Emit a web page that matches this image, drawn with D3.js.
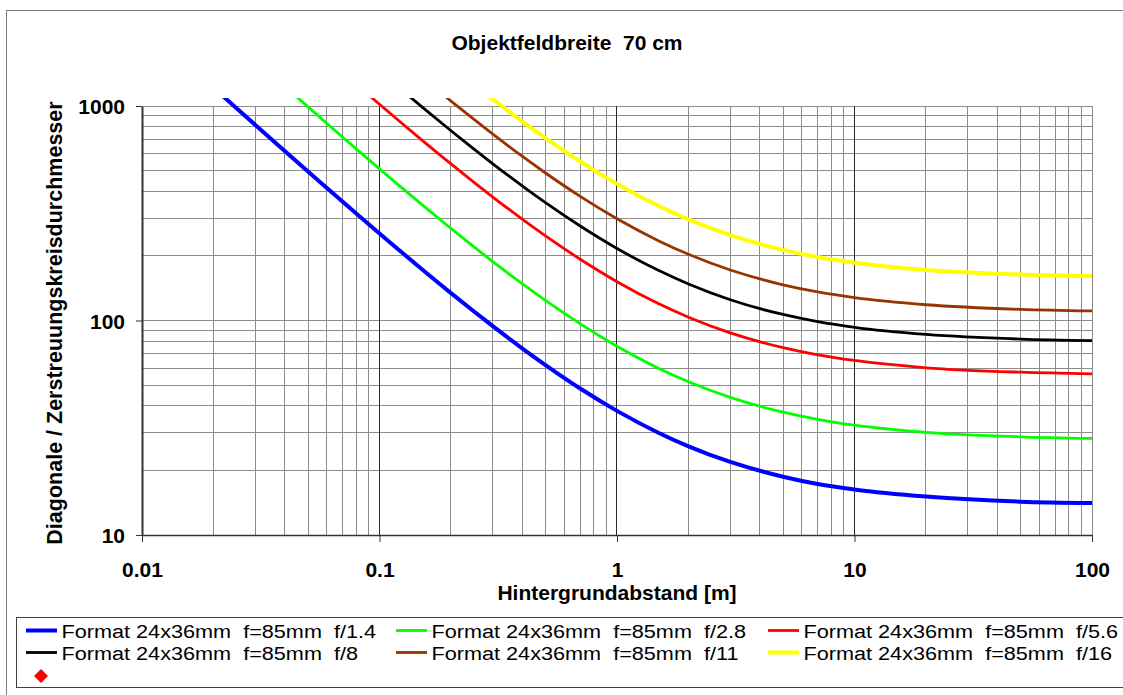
<!DOCTYPE html>
<html><head><meta charset="utf-8">
<script src="https://cdn.jsdelivr.net/npm/d3@7"></script>
<style>
body{margin:0;background:#fff}
svg text{font-family:"Liberation Sans",Arial,Helvetica,sans-serif;white-space:pre}
</style></head><body>
<svg id="c" width="1123" height="695"></svg>
<script>
// ---- data ----
const titleText = "Objektfeldbreite  70 cm";
const xLabel = "Hintergrundabstand [m]";
const yLabel = "Diagonale / Zerstreuungskreisdurchmesser";
const xTickValues = [0.01, 0.1, 1, 10, 100];
const yTickValues = [10, 100, 1000];
// background distance [m]
const distances = [0.02, 0.025, 0.03, 0.04, 0.05, 0.06, 0.07, 0.08, 0.1, 0.12, 0.15, 0.2, 0.25, 0.3, 0.4, 0.5, 0.7, 1, 1.5, 2, 3, 5, 7, 10, 20, 50, 100];
const f14 = [1217.6, 976.9, 816.4, 615.8, 495.4, 415.1, 357.7, 314.8, 254.6, 214.5, 174.4, 134.2, 110.2, 94.1, 74.0, 62.0, 48.2, 37.9, 29.9, 25.9, 21.9, 18.7, 17.3, 16.3, 15.1, 14.3, 14.1];
const f28 = [null, null, null, 1231.6, 990.7, 830.2, 715.5, 629.5, 509.2, 429.0, 348.7, 268.5, 220.3, 188.2, 148.1, 124.0, 96.5, 75.9, 59.8, 51.8, 43.8, 37.4, 34.6, 32.5, 30.1, 28.7, 28.2];
const f56 = [null, null, null, null, null, null, null, 1258.9, 1018.3, 857.8, 697.3, 536.8, 440.6, 376.4, 296.1, 248.0, 193.0, 151.7, 119.6, 103.6, 87.5, 74.7, 69.2, 65.1, 60.2, 57.4, 56.4];
const f8  = [null, null, null, null, null, null, null, null, null, 1225.5, 996.2, 766.9, 629.4, 537.7, 423.1, 354.3, 275.7, 216.7, 170.9, 148.0, 125.0, 106.7, 98.8, 92.9, 86.1, 81.9, 80.6];
const f11 = [null, null, null, null, null, null, null, null, null, null, 1369.8, 1054.6, 865.5, 739.4, 581.7, 487.2, 379.0, 298.0, 235.0, 203.5, 171.9, 146.7, 135.9, 127.8, 118.4, 112.7, 110.8];
const f16 = [null, null, null, null, null, null, null, null, null, null, null, null, 1258.8, 1075.4, 846.1, 708.6, 551.3, 433.5, 341.8, 295.9, 250.1, 213.4, 197.7, 185.9, 172.1, 163.9, 161.1];
const seriesLabels = [
  "Format 24x36mm  f=85mm  f/1.4",
  "Format 24x36mm  f=85mm  f/2.8",
  "Format 24x36mm  f=85mm  f/5.6",
  "Format 24x36mm  f=85mm  f/8",
  "Format 24x36mm  f=85mm  f/11",
  "Format 24x36mm  f=85mm  f/16"
];
const seriesValues = [f14, f28, f56, f8, f11, f16];

// ---- styles ----
const seriesColors = ["#0000ff", "#00ff00", "#ff0000", "#000000", "#993300", "#ffff00"];
const seriesWidths = [4, 2.8, 2.8, 2.8, 2.8, 4];

// ---- layout ----
const X0 = 142, X1 = 1092, Y0 = 535, Y1 = 106;
const svg = d3.select("#c");

svg.append("rect").attr("x", 6.5).attr("y", 10.5).attr("width", 1300).attr("height", 800)
  .attr("fill", "#fff").attr("stroke", "#808080");

const x = d3.scaleLog().domain([0.01, 100]).range([X0, X1]);
const y = d3.scaleLog().domain([10, 1000]).range([Y0, Y1]);
const isDecade = d => Math.abs(Math.log10(d) - Math.round(Math.log10(d))) < 1e-9;
const crisp = v => Math.round(v) + 0.5;

// grid
const grid = svg.append("g");
grid.selectAll("line.h").data(y.ticks()).join("line")
  .attr("x1", X0).attr("x2", X1)
  .attr("y1", d => crisp(y(d) - 0.5)).attr("y2", d => crisp(y(d) - 0.5))
  .attr("stroke", "#8c8c8c").attr("stroke-width", 1);
grid.selectAll("line.v").data(x.ticks()).join("line")
  .attr("x1", d => crisp(x(d) - 0.5)).attr("x2", d => crisp(x(d) - 0.5))
  .attr("y1", Y1).attr("y2", Y0)
  .attr("stroke", d => (isDecade(d) && d > 0.01 && d < 100) ? "#2a2a2a" : "#8c8c8c")
  .attr("stroke-width", 1);

// axes
const ya = svg.append("g").attr("transform", `translate(${X0},0)`)
  .call(d3.axisLeft(y).tickValues(yTickValues).tickFormat(d3.format("d")).tickSize(6).tickSizeOuter(0).tickPadding(11));
ya.select(".domain").attr("stroke", "#333").attr("stroke-width", 2);
ya.selectAll(".tick line").attr("stroke", "#333");
ya.selectAll("text").attr("font-size", 21).attr("font-weight", "bold").attr("fill", "#000").attr("dy", "0.37em");

const xa = svg.append("g").attr("transform", `translate(0,${Y0})`)
  .call(d3.axisBottom(x).tickValues(xTickValues).tickFormat(d => String(d)).tickSize(7).tickSizeOuter(0).tickPadding(20));
xa.select(".domain").attr("stroke", "#333").attr("stroke-width", 1.5);
xa.selectAll(".tick line").attr("stroke", "#333");
xa.selectAll("text").attr("font-size", 21).attr("font-weight", "bold").attr("fill", "#000");

// series
const defs = svg.append("defs");
defs.append("clipPath").attr("id", "plotclip").append("rect")
  .attr("x", X0).attr("y", 98).attr("width", X1 - X0 + 4).attr("height", Y0 - 98);
const line = d3.line().defined(d => d[1] != null)
  .x(d => x(d[0])).y(d => y(d[1])).curve(d3.curveMonotoneX);
const sg = svg.append("g").attr("clip-path", "url(#plotclip)");
seriesValues.forEach((vals, i) => {
  const pts = distances.map((d, j) => [d, vals[j]]);
  sg.append("path").attr("d", line(pts)).attr("fill", "none")
    .attr("stroke", seriesColors[i]).attr("stroke-width", seriesWidths[i])
    .attr("stroke-linejoin", "round");
});

// texts
svg.append("text").attr("x", 567).attr("y", 50).attr("text-anchor", "middle")
  .attr("font-size", 21).attr("font-weight", "bold").text(titleText);
svg.append("text").attr("x", 617).attr("y", 600).attr("text-anchor", "middle")
  .attr("font-size", 21).attr("font-weight", "bold").text(xLabel);
svg.append("text").attr("transform", "translate(62,323) rotate(-90)").attr("text-anchor", "middle")
  .attr("font-size", 21.5).attr("font-weight", "bold").text(yLabel);

// legend
svg.append("rect").attr("x", 16.5).attr("y", 617.5).attr("width", 1300).attr("height", 70)
  .attr("fill", "#fff").attr("stroke", "#404040");
const colX = [26, 396, 768];
const rowY = [630.5, 652.5];
seriesLabels.forEach((lab, i) => {
  const cx = colX[i % 3], cy = rowY[Math.floor(i / 3)];
  svg.append("line").attr("x1", cx).attr("x2", cx + 31).attr("y1", cy).attr("y2", cy)
    .attr("stroke", seriesColors[i]).attr("stroke-width", seriesWidths[i]);
  svg.append("text").attr("transform", `translate(${cx + 35.5},${cy + 7.5}) scale(1.14,1)`)
    .attr("font-size", 19).attr("fill", "#000").text(lab);
});
svg.append("path").attr("d", d3.symbol().type(d3.symbolSquare).size(98)())
  .attr("transform", "translate(41,676) rotate(45)").attr("fill", "#ff0000");
</script>
</body></html>
